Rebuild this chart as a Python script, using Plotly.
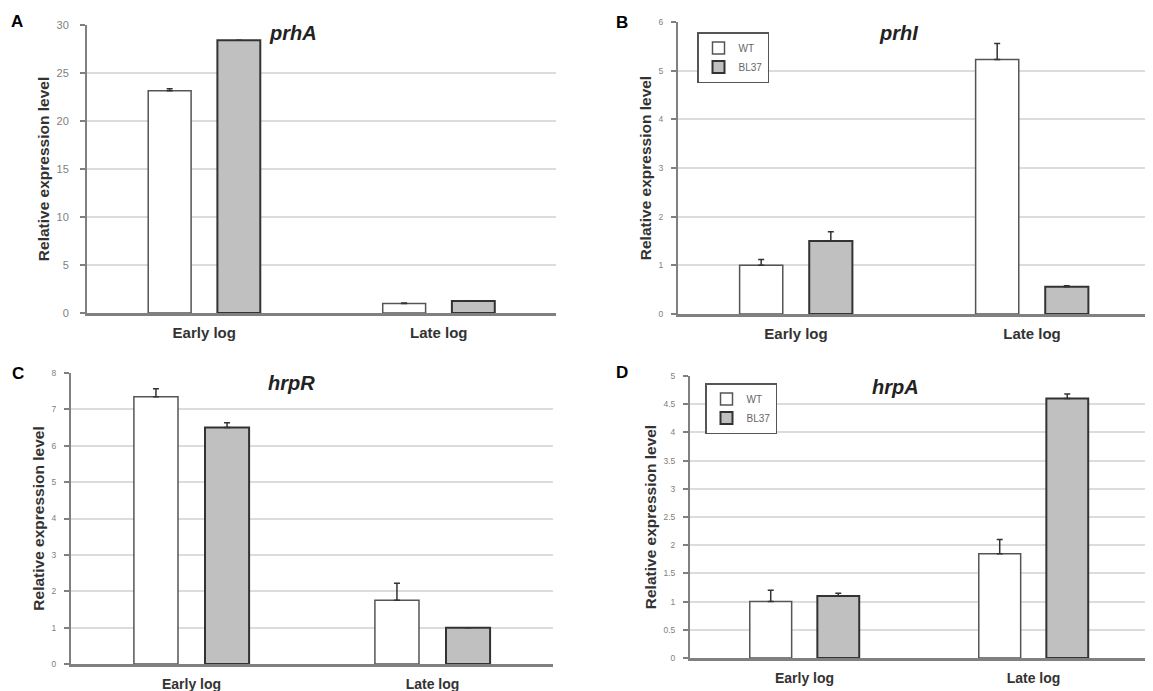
import plotly.graph_objects as go

# The page body adds an 8px margin, so the figure is offset by OFF pixels.
OFF = 8
SCREEN_W, SCREEN_H = 1153, 691
W, H = SCREEN_W - OFF, SCREEN_H - OFF

categories = ["Early log", "Late log"]
series_names = ["WT", "BL37"]

# Panel A: prhA
prhA_wt = [23.15, 1.0]
prhA_wt_err = [0.2, 0.05]
prhA_bl = [28.4, 1.25]
prhA_bl_err = [0.0, 0.0]

# Panel B: prhI
prhI_wt = [1.0, 5.23]
prhI_wt_err = [0.12, 0.33]
prhI_bl = [1.5, 0.56]
prhI_bl_err = [0.19, 0.02]

# Panel C: hrpR
hrpR_wt = [7.35, 1.75]
hrpR_wt_err = [0.22, 0.47]
hrpR_bl = [6.5, 1.0]
hrpR_bl_err = [0.13, 0.0]

# Panel D: hrpA
hrpA_wt = [1.0, 1.85]
hrpA_wt_err = [0.2, 0.25]
hrpA_bl = [1.1, 4.6]
hrpA_bl_err = [0.05, 0.08]

panel_letters = ["A", "B", "C", "D"]
gene_titles = ["prhA", "prhI", "hrpR", "hrpA"]
y_ranges = [[0, 30], [0, 6], [0, 8], [0, 5]]
y_dticks = [5, 1, 1, 0.5]
y_title = "Relative expression level"

# screen-pixel layout of each panel's plot area: (left, right, top, bottom)
boxes = [(87, 556, 25, 313), (678, 1150, 22, 314), (71, 553, 373, 664), (690, 1148, 376, 658)]
letter_pos = [(17, 22), (622, 23), (18, 373), (622, 372)]
title_pos = [(293, 33), (898, 33), (291, 383), (895, 387)]
tick_sizes = [11, 8.5, 8.5, 8.5]
tick_standoffs = [9, 6, 6, 6]
x_ticklens = [4, 4, 5, 5]
x_font = [15, 15, 14, 14]


def px(x):
    return (x - OFF) / W


def py(y):
    return 1 - (y - OFF) / H


data = [
    (prhA_wt, prhA_wt_err, prhA_bl, prhA_bl_err),
    (prhI_wt, prhI_wt_err, prhI_bl, prhI_bl_err),
    (hrpR_wt, hrpR_wt_err, hrpR_bl, hrpR_bl_err),
    (hrpA_wt, hrpA_wt_err, hrpA_bl, hrpA_bl_err),
]

FONT = "Liberation Sans, Arial, sans-serif"
fig = go.Figure()

legend_map = {1: "legend", 3: "legend2"}

for i, (wt, wte, bl, ble) in enumerate(data):
    sfx = "" if i == 0 else str(i + 1)
    show = i in legend_map
    lg = legend_map.get(i, "legend")
    fig.add_trace(go.Bar(
        x=categories, y=wt, name=series_names[0],
        marker=dict(color="white", line=dict(color="#555555", width=1.5)),
        error_y=dict(type="data", array=wte, arrayminus=[0] * len(wte), symmetric=False,
                     color="#333333", thickness=1.5, width=3),
        xaxis="x" + sfx, yaxis="y" + sfx, showlegend=show, legend=lg,
    ))
    fig.add_trace(go.Bar(
        x=categories, y=bl, name=series_names[1],
        marker=dict(color="#c0c0c0", line=dict(color="#333333", width=2)),
        error_y=dict(type="data", array=ble, arrayminus=[0] * len(ble), symmetric=False,
                     color="#333333", thickness=1.5, width=3),
        xaxis="x" + sfx, yaxis="y" + sfx, showlegend=show, legend=lg,
    ))

layout = dict(
    width=W, height=H,
    margin=dict(l=0, r=0, t=0, b=0, autoexpand=False),
    paper_bgcolor="white", plot_bgcolor="white",
    barmode="group", bargap=0.41, bargroupgap=0.38,
    font=dict(family=FONT),
    annotations=[],
)

for i in range(4):
    sfx = "" if i == 0 else str(i + 1)
    l, r, t, b = boxes[i]
    layout["xaxis" + sfx] = dict(
        domain=[px(l), min(px(r), 1.0)], anchor="y" + sfx,
        type="category", range=[-0.5, 1.5], automargin=False,
        showline=True, linecolor="#808080", linewidth=2.5,
        showgrid=False, ticks="outside", ticklen=x_ticklens[i], tickcolor="rgba(0,0,0,0)",
        tickfont=dict(family=FONT, size=x_font[i], color="#333333", weight="bold"),
        fixedrange=True,
    )
    layout["yaxis" + sfx] = dict(
        domain=[py(b), py(t)], anchor="x" + sfx,
        range=y_ranges[i], dtick=y_dticks[i], automargin=False,
        showline=True, linecolor="#808080", linewidth=2,
        showgrid=True, gridcolor="#dcdcdc", gridwidth=1.5,
        zeroline=False,
        ticks="outside", ticklen=5, tickcolor="#808080", tickwidth=1.5,
        ticklabelstandoff=tick_standoffs[i],
        tickfont=dict(family=FONT, size=tick_sizes[i], color="#808080"),
        title=dict(text=y_title, standoff=3,
                   font=dict(family=FONT, size=15.5, color="#333333", weight="bold")),
        fixedrange=True,
    )
    lx, ly = letter_pos[i]
    layout["annotations"].append(dict(
        text="<b>%s</b>" % panel_letters[i], x=px(lx), y=py(ly),
        xref="paper", yref="paper", showarrow=False,
        xanchor="center", yanchor="middle",
        font=dict(family=FONT, size=17, color="black"),
    ))
    tx, ty = title_pos[i]
    layout["annotations"].append(dict(
        text="<b><i>%s</i></b>" % gene_titles[i], x=px(tx), y=py(ty),
        xref="paper", yref="paper", showarrow=False,
        xanchor="center", yanchor="middle",
        font=dict(family=FONT, size=20, color="#222222"),
    ))

legend_style = dict(
    bgcolor="white", bordercolor="#555555", borderwidth=1.5,
    font=dict(family=FONT, size=10, color="#666666"),
    xanchor="left", yanchor="top", itemwidth=30, tracegroupgap=0,
)
layout["legend"] = dict(x=px(697), y=py(32), **legend_style)
layout["legend2"] = dict(x=px(705), y=py(383), **legend_style)

fig.update_layout(**layout)
fig.write_html("out.html")
